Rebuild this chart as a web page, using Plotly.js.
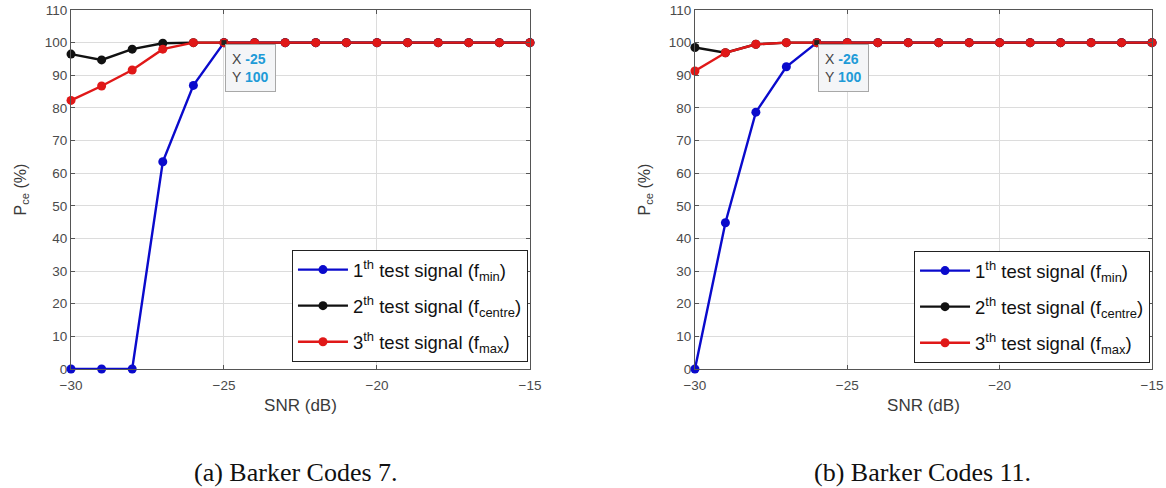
<!DOCTYPE html>
<html>
<head>
<meta charset="utf-8">
<script src="https://cdn.plot.ly/plotly-3.0.1.min.js"></script>
<style>
  html, body { margin: 0; padding: 0; background: #fff; }
  #chart { width: 1166px; height: 488px; }
</style>
</head>
<body>
<div id="chart"></div>
<script>
// SNR sweep (dB)
const snr = [-30, -29, -28, -27, -26, -25, -24, -23, -22, -21, -20, -19, -18, -17, -16, -15];

// Barker code 7: probability of correct estimation (%)
const b7_fmin    = [0, 0, 0, 63.5, 86.9, 100, 100, 100, 100, 100, 100, 100, 100, 100, 100, 100];
const b7_fcentre = [96.5, 94.7, 98, 99.8, 100, 100, 100, 100, 100, 100, 100, 100, 100, 100, 100, 100];
const b7_fmax    = [82.3, 86.7, 91.6, 98, 100, 100, 100, 100, 100, 100, 100, 100, 100, 100, 100, 100];

// Barker code 11: probability of correct estimation (%)
const b11_fmin    = [0, 44.8, 78.7, 92.6, 100, 100, 100, 100, 100, 100, 100, 100, 100, 100, 100, 100];
const b11_fcentre = [98.5, 96.9, 99.5, 100, 100, 100, 100, 100, 100, 100, 100, 100, 100, 100, 100, 100];
const b11_fmax    = [91.3, 96.9, 99.5, 100, 100, 100, 100, 100, 100, 100, 100, 100, 100, 100, 100, 100];

// Series labels
const seriesNames = [
  "1<sup>th</sup> test signal (f<sub>min</sub>)",
  "2<sup>th</sup> test signal (f<sub>centre</sub>)",
  "3<sup>th</sup> test signal (f<sub>max</sub>)"
];
const seriesColors = ["#0a0acc", "#111111", "#e01818"];

// Data tips: [snr, value]
const tip7  = [-25, 100];
const tip11 = [-26, 100];

// Axis ticks
const xTicks = [-30, -25, -20, -15];
const yTicks = [0, 10, 20, 30, 40, 50, 60, 70, 80, 90, 100, 110];

const captions = ["(a) Barker Codes 7.", "(b) Barker Codes 11."];

const sans = "Liberation Sans, Arial, sans-serif";

function series(y, i, xa, ya, leg) {
  return {
    x: snr, y: y, type: "scatter", mode: "lines+markers",
    name: seriesNames[i], xaxis: xa, yaxis: ya, legend: leg,
    legendgroup: leg + "_" + i,
    line: { color: seriesColors[i], width: 2.4 },
    marker: { color: seriesColors[i], size: 9 },
    cliponaxis: false
  };
}

const traces = [
  series(b7_fmin, 0, "x", "y", "legend"),
  series(b7_fcentre, 1, "x", "y", "legend"),
  series(b7_fmax, 2, "x", "y", "legend"),
  series(b11_fmin, 0, "x2", "y2", "legend2"),
  series(b11_fcentre, 1, "x2", "y2", "legend2"),
  series(b11_fmax, 2, "x2", "y2", "legend2"),
  // data tip anchor points
  { x: [tip7[0]], y: [tip7[1]], type: "scatter", mode: "markers", xaxis: "x", yaxis: "y",
    marker: { color: "#222", size: 5, symbol: "square" }, showlegend: false, cliponaxis: false },
  { x: [tip11[0]], y: [tip11[1]], type: "scatter", mode: "markers", xaxis: "x2", yaxis: "y2",
    marker: { color: "#222", size: 5, symbol: "square" }, showlegend: false, cliponaxis: false }
];

const tickFont = { family: sans, size: 13.5, color: "#4a4a4a" };

function xAxis(domain, anchor) {
  return {
    domain: domain, anchor: anchor, range: [-30, -15], tickvals: xTicks,
    showgrid: true, gridcolor: "#dcdcdc", gridwidth: 1, zeroline: false,
    showline: true, linecolor: "#555", linewidth: 1, mirror: "ticks",
    ticks: "inside", ticklen: 4, tickcolor: "#555",
    tickfont: tickFont, ticklabelstandoff: 4,
    title: { text: "SNR (dB)", font: { family: sans, size: 17, color: "#3a3a3a" }, standoff: 6 }
  };
}
function yAxis(domain, anchor) {
  return {
    domain: domain, anchor: anchor, range: [0, 110], tickvals: yTicks,
    showgrid: true, gridcolor: "#dcdcdc", gridwidth: 1, zeroline: false,
    showline: true, linecolor: "#555", linewidth: 1, mirror: "ticks",
    ticks: "inside", ticklen: 4, tickcolor: "#555",
    tickfont: tickFont,
    title: { text: "P<sub>ce</sub> (%)", font: { family: sans, size: 16, color: "#3a3a3a" }, standoff: 14 }
  };
}

const yDom = [0.2439, 0.9795];

function tipNote(tip, xref, yref) {
  return {
    x: tip[0], y: tip[1], xref: xref, yref: yref,
    xanchor: "left", yanchor: "top", xshift: 1, yshift: -1,
    showarrow: false, align: "left",
    text: "X <span style='color:#1e9bd7'><b>" + tip[0] + "</b></span><br>Y <span style='color:#1e9bd7'><b>" + tip[1] + "</b></span>",
    font: { family: sans, size: 14, color: "#444" },
    bgcolor: "#f4f5f7", bordercolor: "#a8a8a8", borderwidth: 1, borderpad: 6
  };
}

function legendBox(x, y) {
  return {
    x: x, y: y, xref: "paper", yref: "paper", xanchor: "right", yanchor: "bottom",
    bgcolor: "#ffffff", bordercolor: "#222", borderwidth: 1,
    font: { family: sans, size: 18.5, color: "#111" },
    itemwidth: 50, tracegroupgap: 9
  };
}

function caption(text, x) {
  return {
    x: x, y: 0.031, xref: "paper", yref: "paper", xanchor: "center", yanchor: "middle",
    showarrow: false, text: text,
    font: { family: "Liberation Serif, Times New Roman, serif", size: 26, color: "#111" }
  };
}

const layout = {
  width: 1166, height: 488,
  margin: { l: 0, r: 0, t: 0, b: 0 },
  paper_bgcolor: "#ffffff", plot_bgcolor: "#ffffff",
  showlegend: true,
  xaxis: xAxis([0.0609, 0.4545], "y"),
  yaxis: yAxis(yDom, "x"),
  xaxis2: xAxis([0.596, 0.988], "y2"),
  yaxis2: yAxis(yDom, "x2"),
  legend: legendBox(0.4528, 0.258),
  legend2: legendBox(0.9863, 0.256),
  annotations: [
    tipNote(tip7, "x", "y"),
    tipNote(tip11, "x2", "y2"),
    caption(captions[0], 0.254),
    caption(captions[1], 0.791)
  ]
};

Plotly.newPlot("chart", traces, layout, { displayModeBar: false, staticPlot: true });
</script>
</body>
</html>
